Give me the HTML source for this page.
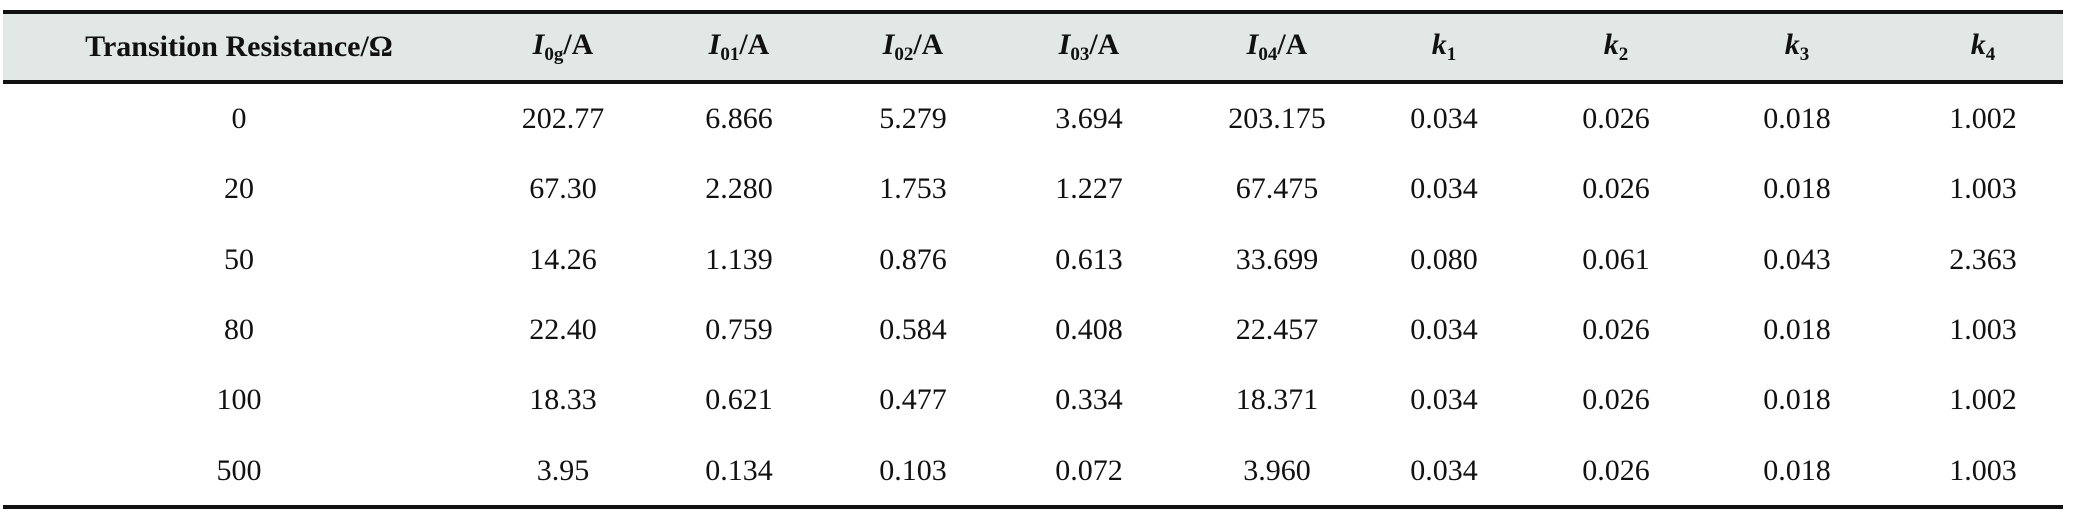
<!DOCTYPE html>
<html><head><meta charset="utf-8">
<style>
body{margin:0;width:2094px;height:521px;background:#fff;position:relative;overflow:hidden;font-family:"Liberation Serif",serif;color:#111}
.hdr{position:absolute;left:3px;width:2060px;top:12px;height:70px;background:#e1e8e5}
.line{position:absolute;left:3px;width:2060px;background:#111}
.c{position:absolute;transform:translate(-50%,-50%);font-size:30px;white-space:nowrap;line-height:1}
.h{font-weight:bold}
.h sub{font-size:19px;vertical-align:-6px}
</style></head><body>
<div class="hdr"></div>
<div class="line" style="top:10px;height:4px"></div>
<div class="line" style="top:80px;height:4px"></div>
<div class="line" style="top:505px;height:4px"></div>
<div id="t"></div>
<script>
const colX=[239,563,739,913,1089,1277,1444,1616,1797,1983];
const headers=['Transition Resistance/Ω','<i>I</i><sub>0g</sub>/A','<i>I</i><sub>01</sub>/A','<i>I</i><sub>02</sub>/A','<i>I</i><sub>03</sub>/A','<i>I</i><sub>04</sub>/A','<i>k</i><sub>1</sub>','<i>k</i><sub>2</sub>','<i>k</i><sub>3</sub>','<i>k</i><sub>4</sub>'];
const rows=[
['0','202.77','6.866','5.279','3.694','203.175','0.034','0.026','0.018','1.002'],
['20','67.30','2.280','1.753','1.227','67.475','0.034','0.026','0.018','1.003'],
['50','14.26','1.139','0.876','0.613','33.699','0.080','0.061','0.043','2.363'],
['80','22.40','0.759','0.584','0.408','22.457','0.034','0.026','0.018','1.003'],
['100','18.33','0.621','0.477','0.334','18.371','0.034','0.026','0.018','1.002'],
['500','3.95','0.134','0.103','0.072','3.960','0.034','0.026','0.018','1.003']];
const t=document.getElementById('t');
headers.forEach((h,i)=>{const d=document.createElement('div');d.className='c h';d.style.left=colX[i]+'px';d.style.top='47px';d.innerHTML=h;


t.appendChild(d);});
rows.forEach((r,ri)=>r.forEach((v,ci)=>{const d=document.createElement('div');d.className='c';d.style.left=colX[ci]+'px';d.style.top=(119+ri*70.3)+'px';d.textContent=v;


t.appendChild(d);}));
</script>
</body></html>
